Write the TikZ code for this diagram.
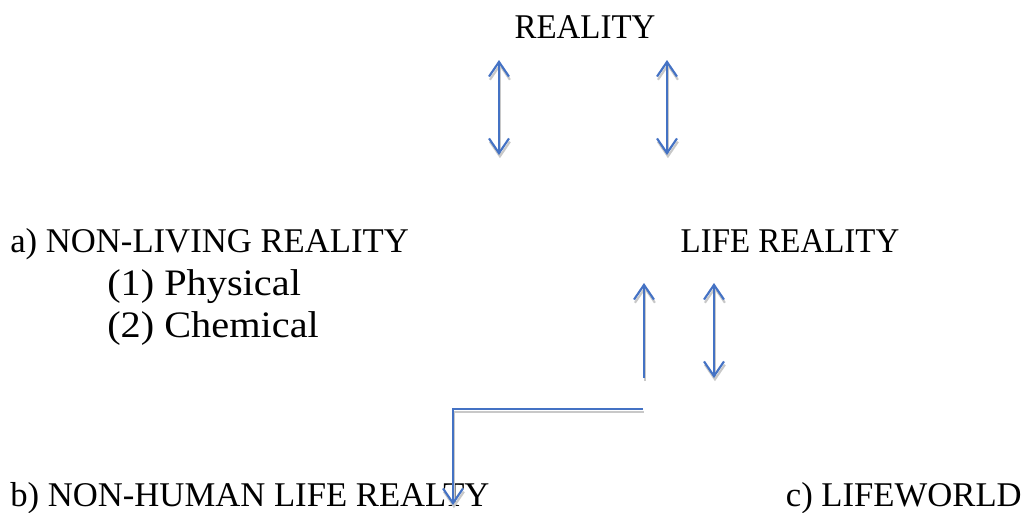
\documentclass[tikz,border=0pt]{standalone}
\usepackage{fontspec}
\setmainfont{Liberation Serif}
\newfontfamily\widefont[FakeStretch=1.08]{Liberation Serif}
\newfontfamily\narrowfont[FakeStretch=0.95]{Liberation Serif}
\usepackage{xcolor}
\usepackage{tikz}
\usetikzlibrary{arrows.meta}

\definecolor{linkblue}{RGB}{68,114,196}
\definecolor{shadegray}{RGB}{200,200,200}

\tikzset{
  lbl/.style={font=\fontsize{26}{31}\selectfont,inner sep=0pt},
  sublbl/.style={font=\widefont\fontsize{28}{33}\selectfont,inner sep=0pt},
  caplbl/.style={font=\narrowfont\fontsize{26}{31}\selectfont,inner sep=0pt},
  link/.style={draw=linkblue,line width=1.6pt,
    preaction={draw=shadegray,line width=1.6pt,
      transform canvas={shift={(0.7pt,-2.4pt)}}}},
}

\begin{document}
\begin{tikzpicture}[x=0.75pt,y=-0.75pt,>={Straight Barb[length=11pt,width=15pt]}]
  \useasboundingbox (0,0) rectangle (1026,512);
  % labels
  \node[caplbl,anchor=base] (reality) at (585,38) {REALITY};
  \node[lbl,anchor=base west] (nonliving) at (10,252) {a) NON-LIVING REALITY};
  \node[sublbl,anchor=base west] (phys) at (107,295) {(1) Physical};
  \node[sublbl,anchor=base west] (chem) at (107,337) {(2) Chemical};
  \node[caplbl,anchor=base] (life) at (790,252) {LIFE REALITY};
  \node[lbl,anchor=base west] (nonhuman) at (10,506) {b) NON-HUMAN LIFE REALTY};
  \node[lbl,anchor=base east] (lifeworld) at (1022,506) {c) LIFEWORLD};
  % arrow ends
  \coordinate (lt) at (499,60);  \coordinate (lb) at (499,155);
  \coordinate (rt) at (667,60);  \coordinate (rb) at (667,155);
  \coordinate (ut) at (644,283); \coordinate (ub) at (644,378);
  \coordinate (dt) at (714,283); \coordinate (db) at (714,378);
  \coordinate (es) at (643,409); \coordinate (ee) at (453,505);
  % arrows
  \draw[link,<->] (lt) -- (lb);
  \draw[link,<->] (rt) -- (rb);
  \draw[link,->] (ub) -- (ut);
  \draw[link,<->] (dt) -- (db);
  \draw[link,->] (es) -| (ee);
\end{tikzpicture}
\end{document}
